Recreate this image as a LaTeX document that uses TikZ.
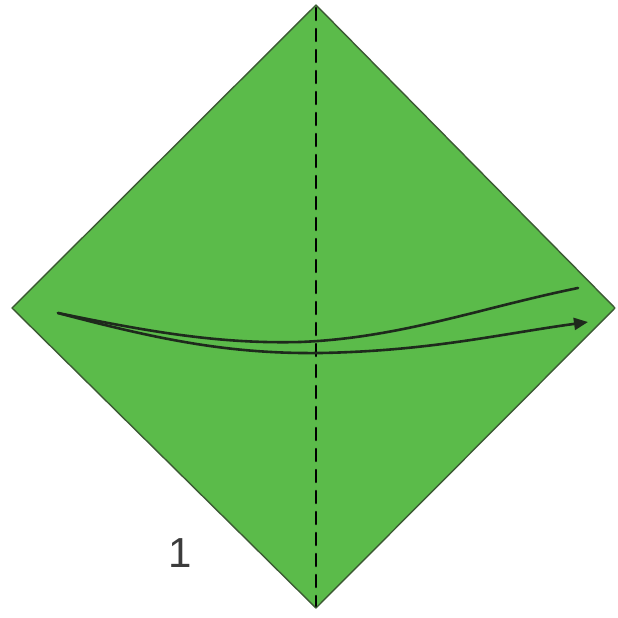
\documentclass[tikz,border=0pt]{standalone}
\usepackage{fontspec}
\setmainfont{Liberation Sans}
\usetikzlibrary{arrows.meta}
\definecolor{paper}{HTML}{5BBB4A}
\definecolor{rim}{HTML}{3C5A34}
\definecolor{fold}{HTML}{1E2A1C}
\definecolor{stepnum}{HTML}{3C3C3C}

\begin{document}
\begin{tikzpicture}[x=0.5pt,y=-0.5pt,line cap=round,line join=round]
  \useasboundingbox (0,0) rectangle (618,618);

  % Square sheet turned on its corner.
  \fill[paper] (316,5)--(615,308)--(316,608)--(12,308)--cycle;
  \draw[rim,line width=0.7pt] (316,5)--(615,308)--(316,608)--(12,308)--cycle;

  % Valley fold along the vertical diagonal.
  \draw[black,line width=1.3pt,dash pattern=on 6pt off 4.5pt] (316,8)--(316,606);

  % Fold-over arrow: left corner swings across to the right.
  \draw[fold,line width=1.3pt]
    (58,313) .. controls (150,332) and (220,344) .. (300,342)
             .. controls (400,338) and (480,308) .. (578,288);
  \draw[fold,line width=1.3pt,-{Triangle[length=7pt,width=6pt]}]
    (58,313) .. controls (160,340) and (230,354) .. (320,353)
             .. controls (430,351) and (500,334) .. (588,322);

  % Step number.
  \node[stepnum,font=\fontsize{21}{21}\selectfont] (num) at (180,553) {1};
\end{tikzpicture}
\end{document}
